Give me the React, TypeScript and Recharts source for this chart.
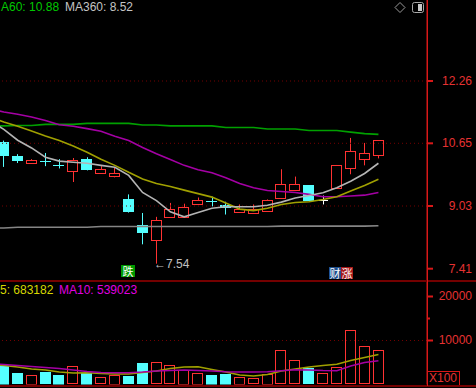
import React from "react";
import {
  ComposedChart,
  Bar,
  Line,
  XAxis,
  YAxis,
  ReferenceLine,
} from "recharts";

// candles (28 sessions)
const opens = [10.68, 10.31, 10.13, 10.2, 10.1, 9.93, 10.24, 9.87, 9.8, 9.22, 8.54, 8.15, 8.75, 8.75, 9.07, 9.16, 9.06, 8.88, 8.85, 8.91, 9.24, 9.44, 9.56, 9.18, 9.5, 10.0, 10.24, 10.36];
const highs = [10.72, 10.37, 10.24, 10.4, 10.24, 10.27, 10.29, 10.06, 10.03, 9.33, 8.85, 8.75, 9.11, 9.09, 9.25, 9.27, 9.14, 9.07, 9.07, 9.2, 9.98, 9.79, 9.57, 9.3, 10.09, 10.79, 10.66, 10.73];
const lows = [10.04, 10.14, 10.12, 10.06, 10.0, 9.65, 9.95, 9.86, 9.77, 8.86, 8.04, 7.54, 8.74, 8.74, 9.06, 9.02, 8.81, 8.87, 8.84, 8.9, 9.23, 9.43, 9.15, 9.07, 9.49, 9.85, 10.08, 10.26];
const closes = [10.33, 10.18, 10.23, 10.19, 10.08, 10.21, 9.96, 9.98, 9.87, 8.87, 8.34, 8.68, 8.94, 9.01, 9.18, 9.14, 8.97, 8.95, 8.94, 9.19, 9.61, 9.59, 9.15, 9.18, 10.08, 10.44, 10.39, 10.73];
const volumes = [4270, 2545, 2160, 2770, 2160, 4140, 2680, 1640, 2160, 1930, 4820, 5045, 4360, 3300, 2680, 2160, 2390, 1770, 1410, 2390, 7770, 5500, 3680, 2545, 3910, 12320, 8680, 7770];

// moving averages: first value is the session just off the left edge
const ma5 = [11.23, 11.01, 10.73, 10.53, 10.29, 10.19, 10.16, 10.135, 10.08, 10.03, 9.82, 9.38, 9.17, 8.88, 8.75, 8.86, 8.97, 9.01, 9.01, 9.01, 9.05, 9.13, 9.235, 9.3, 9.37, 9.5, 9.67, 9.87, 10.135];
const ma10 = [11.33, 11.2, 11.09, 10.97, 10.84, 10.72, 10.58, 10.42, 10.24, 10.08, 9.9, 9.73, 9.61, 9.535, 9.44, 9.35, 9.26, 9.105, 8.95, 8.91, 8.97, 9.07, 9.12, 9.14, 9.2, 9.27, 9.42, 9.56, 9.72];
const ma30 = [11.54, 11.46, 11.4, 11.33, 11.24, 11.13, 11.09, 11.03, 10.96, 10.83, 10.72, 10.54, 10.38, 10.23, 10.08, 9.965, 9.89, 9.76, 9.61, 9.5, 9.43, 9.405, 9.38, 9.33, 9.27, 9.27, 9.29, 9.31, 9.38];
const ma60 = [11.1, 11.1, 11.11, 11.11, 11.14, 11.14, 11.14, 11.165, 11.165, 11.165, 11.165, 11.125, 11.125, 11.1, 11.1, 11.1, 11.1, 11.06, 11.06, 11.06, 11.02, 11.02, 11.02, 10.98, 10.98, 10.98, 10.94, 10.9, 10.88];
const ma360 = [8.46, 8.46, 8.48, 8.48, 8.48, 8.48, 8.48, 8.48, 8.5, 8.5, 8.5, 8.5, 8.5, 8.5, 8.5, 8.5, 8.5, 8.5, 8.5, 8.5, 8.5, 8.51, 8.51, 8.51, 8.51, 8.51, 8.51, 8.51, 8.52];
const volMa5 = [4660, 4320, 3980, 3520, 3300, 2840, 2610, 2680, 2500, 2390, 2390, 2730, 3070, 3640, 3980, 4050, 3410, 2840, 2160, 1930, 2270, 3070, 3520, 3980, 4320, 4590, 5450, 6140, 6830];
const volMa10 = [4780, 4545, 4320, 4090, 3860, 3640, 3300, 2950, 2730, 2680, 2680, 2840, 3070, 3180, 3300, 3180, 3070, 2910, 2840, 2840, 2910, 3140, 3360, 3300, 3180, 3140, 4200, 5000, 5390];

const priceTicks = [7.41, 9.03, 10.65, 12.26];
const volTicks = [10000, 15000, 20000];
const volTickLabels = ["10000", "", "20000"];
const EMPTY_SLOTS = 3;

const CYAN = "#54ffff";
const RED = "#ff3232";
const AXIS_RED = "#d81818";
const LABEL_RED = "#e63232";
const DARK_RED = "#740000";
const FONT = "'Liberation Sans', Arial, sans-serif";

const W = 476;
const SHIFT = 17; // charts start left of the page so the averages run to the edge

const data: any[] = [];
const total = ma5.length + EMPTY_SLOTS;
for (let k = 0; k < total; k++) {
  const i = k - 1;
  const has = i >= 0 && i < opens.length;
  data.push({
    k,
    o: has ? opens[i] : null,
    h: has ? highs[i] : null,
    l: has ? lows[i] : null,
    c: has ? closes[i] : null,
    range: has ? [lows[i], highs[i]] : null,
    vol: has ? volumes[i] : null,
    ma5: k < ma5.length ? ma5[k] : null,
    ma10: k < ma10.length ? ma10[k] : null,
    ma30: k < ma30.length ? ma30[k] : null,
    ma60: k < ma60.length ? ma60[k] : null,
    ma360: k < ma360.length ? ma360[k] : null,
    vma5: k < volMa5.length ? volMa5[k] : null,
    vma10: k < volMa10.length ? volMa10[k] : null,
  });
}

const Candle = (props: any) => {
  const { x, y, width, height, payload } = props;
  if (!payload || payload.o == null) return <g />;
  const top = Math.min(y, y + height);
  const bot = Math.max(y, y + height);
  const span = payload.h - payload.l;
  const yOf = (v: number) => (span > 0 ? top + ((payload.h - v) / span) * (bot - top) : top);
  const cx = Math.round(x + width / 2) + 0.5;
  const left = Math.round(x);
  const yo = yOf(payload.o);
  const yc = yOf(payload.c);
  const bTop = Math.round(Math.min(yo, yc));
  const bBot = Math.max(Math.round(Math.max(yo, yc)), bTop + 1);
  if (payload.c > payload.o) {
    return (
      <g>
        <line x1={cx} x2={cx} y1={top} y2={bTop} stroke={RED} />
        <line x1={cx} x2={cx} y1={bBot} y2={bot} stroke={RED} />
        <rect x={left + 0.5} y={bTop + 0.5} width={width - 1} height={bBot - bTop} fill="#000" stroke={RED} />
      </g>
    );
  }
  const col = payload.c < payload.o ? CYAN : "#ffffff";
  return (
    <g>
      <line x1={cx} x2={cx} y1={top} y2={bot} stroke={col} />
      <rect x={left} y={bTop} width={width} height={Math.max(bBot - bTop, 1)} fill={col} />
    </g>
  );
};

const VolBar = (props: any) => {
  const { x, y, width, height, payload } = props;
  if (!payload || payload.vol == null) return <g />;
  const left = Math.round(x);
  const top = Math.round(y);
  const h = Math.round(height);
  if (payload.c < payload.o) {
    return <rect x={left} y={top} width={width} height={h} fill={CYAN} />;
  }
  return <rect x={left + 0.5} y={top + 0.5} width={width - 1} height={h - 1} fill="none" stroke={RED} />;
};

const PriceTick = (props: any) => {
  const { x, y, payload } = props;
  return (
    <g>
      <line x1={x} x2={x + 6} y1={y} y2={y} stroke={AXIS_RED} strokeWidth={2} />
      <text x={x + 45} y={y + 4} textAnchor="end" fill={LABEL_RED} fontSize={12} fontFamily={FONT}>
        {payload.value.toFixed(2)}
      </text>
    </g>
  );
};

const VolTick = (props: any) => {
  const { x, y, payload, index } = props;
  const label = volTickLabels[index] ?? String(payload.value);
  return (
    <g>
      <line x1={x} x2={x + (label ? 6 : 3)} y1={y} y2={y} stroke={AXIS_RED} strokeWidth={2} />
      <text x={x + 45} y={y + 4} textAnchor="end" fill={LABEL_RED} fontSize={12} fontFamily={FONT}>
        {label}
      </text>
    </g>
  );
};

const txt = (extra: React.CSSProperties): React.CSSProperties => ({
  position: "absolute",
  fontFamily: FONT,
  fontSize: 12,
  lineHeight: "12px",
  whiteSpace: "nowrap",
  ...extra,
});

const tag = (left: number, top: number, bg: string): React.CSSProperties => ({
  position: "absolute",
  left,
  top,
  width: 12,
  height: 12,
  background: bg,
  color: "#fff",
  fontFamily: "'Noto Sans CJK SC', sans-serif",
  fontSize: 11,
  lineHeight: "12px",
  textAlign: "center",
});

const lineProps = {
  dot: false,
  activeDot: false,
  type: "linear" as const,
  strokeWidth: 1.6,
  isAnimationActive: false,
};

export default function App() {
  return (
    <div
      style={{
        position: "absolute",
        left: 0,
        top: 0,
        width: W,
        height: 388,
        background: "#000",
        overflow: "hidden",
      }}
    >
      <div style={{ position: "absolute", left: -SHIFT, top: 0 }}>
        <ComposedChart width={W + SHIFT} height={280} data={data} margin={{ top: 0, right: 0, bottom: 0, left: 0 }}>
          <XAxis dataKey="k" hide />
          <YAxis
            orientation="right"
            width={49}
            domain={[7.118, 14.353]}
            ticks={priceTicks}
            interval={0}
            allowDataOverflow
            axisLine={{ stroke: AXIS_RED, strokeWidth: 1 }}
            tickLine={false}
            tickSize={0}
            tickMargin={0}
            tick={<PriceTick />}
          />
          <ReferenceLine y={12.26} stroke={DARK_RED} strokeDasharray="1 3" />
          <ReferenceLine y={10.65} stroke={DARK_RED} strokeDasharray="1 3" />
          <ReferenceLine y={9.03} stroke={DARK_RED} strokeDasharray="1 3" />
          <Line dataKey="ma360" stroke="#858585" {...lineProps} />
          <Line dataKey="ma60" stroke="#00a000" {...lineProps} />
          <Line dataKey="ma30" stroke="#a400a4" {...lineProps} />
          <Line dataKey="ma10" stroke="#a0a000" {...lineProps} />
          <Line dataKey="ma5" stroke="#b4b4b4" {...lineProps} />
          <Bar dataKey="range" barSize={11} shape={<Candle />} activeBar={false} isAnimationActive={false} />
        </ComposedChart>
      </div>

      <div style={{ position: "absolute", left: -SHIFT, top: 282 }}>
        <ComposedChart width={W + SHIFT} height={106} data={data} margin={{ top: 0, right: 0, bottom: 3.5, left: 0 }}>
          <XAxis dataKey="k" hide />
          <YAxis
            orientation="right"
            width={49}
            domain={[0, 23295]}
            ticks={volTicks}
            interval={0}
            allowDataOverflow
            axisLine={{ stroke: AXIS_RED, strokeWidth: 1 }}
            tickLine={false}
            tickSize={0}
            tickMargin={0}
            tick={<VolTick />}
          />
          <ReferenceLine y={10000} stroke={DARK_RED} strokeDasharray="1 3" />
          <Bar dataKey="vol" barSize={11} shape={<VolBar />} activeBar={false} isAnimationActive={false} />
          <Line dataKey="vma5" stroke="#a0a000" {...lineProps} />
          <Line dataKey="vma10" stroke="#a400a4" {...lineProps} />
        </ComposedChart>
      </div>

      {/* panel borders */}
      <div style={{ position: "absolute", left: 0, top: 280, width: W, height: 2, background: DARK_RED }} />
      <div style={{ position: "absolute", left: 0, top: 385, width: W, height: 2, background: DARK_RED }} />
      <div style={{ position: "absolute", left: 427, top: 0, width: 1, height: 386, background: AXIS_RED }} />

      {/* price header (left part of the first label is off the panel) */}
      <div style={txt({ left: 1, top: 1, color: "#00c800" })}>A60: 10.88</div>
      <div style={txt({ left: 65, top: 1, color: "#c4c4c4" })}>MA360: 8.52</div>
      <svg style={{ position: "absolute", left: 393, top: 1 }} width={32} height={14}>
        <polygon points="7,1.5 12,6.5 7,11.5 2,6.5" fill="none" stroke="#9a9a9a" />
        <rect x={19.5} y={1.5} width={11} height={10} rx={2} fill="none" stroke="#a8a8a8" />
        <rect x={25} y={3} width={4} height={7} fill="#c8c8c8" />
      </svg>

      {/* volume header */}
      <div style={txt({ left: 0, top: 284, color: "#d8d800" })}>5: 683182</div>
      <div style={txt({ left: 59, top: 284, color: "#e000e0" })}>MA10: 539023</div>

      {/* annotations */}
      <div style={txt({ left: 154, top: 258, color: "#c0c0c0" })}>←7.54</div>
      <div style={{ ...tag(121, 265, "#009a00"), width: 14 }}>跌</div>
      <div style={tag(329, 267, "#1f4f8c")}>财</div>
      <div style={tag(341, 267, "#a81818")}>涨</div>

      <div
        style={{
          position: "absolute",
          left: 427,
          top: 371,
          width: 33,
          height: 14,
          borderTop: `1px solid ${AXIS_RED}`,
          borderRight: `1px solid ${AXIS_RED}`,
          boxSizing: "border-box",
          color: LABEL_RED,
          fontFamily: FONT,
          fontSize: 12,
          lineHeight: "13px",
          textAlign: "center",
        }}
      >
        X100
      </div>
    </div>
  );
}
